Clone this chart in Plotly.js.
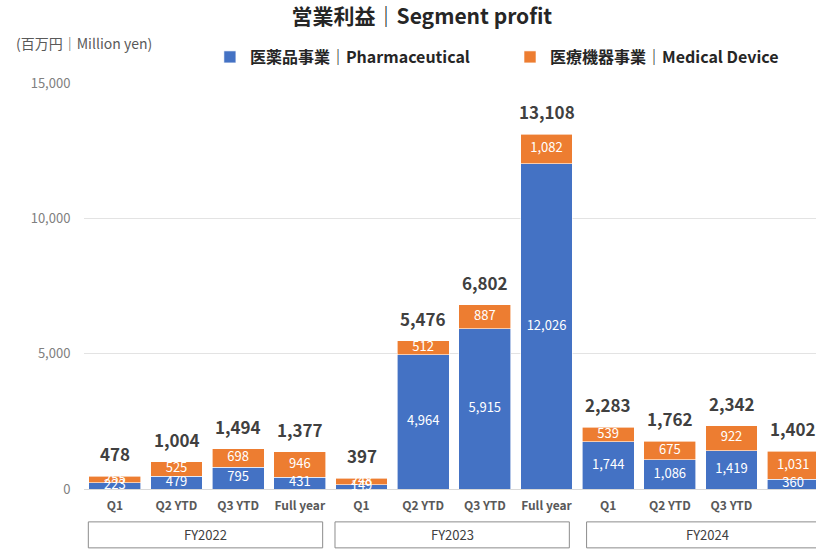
<!DOCTYPE html>
<html>
<head>
<meta charset="utf-8">
<script src="https://cdn.plot.ly/plotly-3.0.1.min.js"></script>
<style>html,body{margin:0;padding:0;background:#fff;}#chart{width:816px;height:552px;}</style>
</head>
<body>
<div id="chart"></div>
<script>
const categories = ['Q1','Q2 YTD','Q3 YTD','Full year','Q1','Q2 YTD','Q3 YTD','Full year','Q1','Q2 YTD','Q3 YTD','Full year'];
const fiscalYears = ['FY2022','FY2023','FY2024'];
const pharma = [223,479,795,431,149,4964,5915,12026,1744,1086,1419,360];
const device = [255,525,698,946,248,512,887,1082,539,675,922,1031];
const totals = [478,1004,1494,1377,397,5476,6802,13108,2283,1762,2342,1402];
const seriesNames = ['医薬品事業｜Pharmaceutical','医療機器事業｜Medical Device'];
const yTicks = [0,5000,10000,15000];

const FONT = '"Noto Sans CJK JP", "Noto Sans", sans-serif';
const BLUE = '#4472C4', ORANGE = '#ED7D31';
const xs = categories.map((_, i) => i);
const fmt = v => v.toLocaleString('en-US');

const traces = [
  {type:'bar', x: xs, y: pharma, name: seriesNames[0], legend:'legend', marker:{color:BLUE, line:{color:'#ffffff', width:0.6}}, hoverinfo:'y+name'},
  {type:'bar', x: xs, y: device, name: seriesNames[1], legend:'legend2', marker:{color:ORANGE, line:{color:'#ffffff', width:0.6}}, hoverinfo:'y+name'},
  {type:'scatter', mode:'text', x: xs, y: pharma.map(v => v/2), text: pharma.map(fmt), textposition:'middle center',
   textfont:{color:'#ffffff', size:13, family:FONT}, showlegend:false, hoverinfo:'skip', cliponaxis:false},
  {type:'scatter', mode:'text', x: xs, y: device.map((v,i) => pharma[i] + v/2), text: device.map(fmt), textposition:'middle center',
   textfont:{color:'#ffffff', size:13, family:FONT}, showlegend:false, hoverinfo:'skip', cliponaxis:false}
];

const shapes = [], annotations = [];
xs.forEach(i => {
  annotations.push({xref:'x', yref:'y', x:i, y:pharma[i] + device[i], text:fmt(totals[i]), showarrow:false,
    xanchor:'center', yanchor:'bottom', yshift:8, font:{size:17, color:'#404040', family:FONT, weight:'bold'}});
});
fiscalYears.forEach((fy, g) => {
  const x0 = g*4 - 0.43 + (g === 2 ? 0.08 : 0), x1 = g*4 + 3.37 + (g === 2 ? 0.2 : 0);
  shapes.push({type:'rect', xref:'x', yref:'paper', x0:x0, x1:x1, y0:-0.145, y1:-0.081,
    line:{color:'#8c8c8c', width:1}, fillcolor:'rgba(0,0,0,0)', layer:'above'});
  annotations.push({xref:'x', yref:'paper', x:(x0+x1)/2, y:-0.113, text:fy, showarrow:false,
    font:{size:13, color:'#404040', family:FONT}, xanchor:'center', yanchor:'middle'});
});
annotations.push({xref:'paper', yref:'paper', x:-0.096, y:1.0985, xanchor:'left', yanchor:'middle',
  text:'(百万円｜Million yen)', showarrow:false, font:{size:14, color:'#595959', family:FONT}});

const legendFont = {size:16, color:'#262626', family:FONT, weight:'bold'};
const layout = {
  width:816, height:552,
  margin:{l:84, r:0, t:83, b:63},
  paper_bgcolor:'#ffffff', plot_bgcolor:'#ffffff',
  font:{family:FONT, color:'#404040'},
  barmode:'stack', bargap:0.16,
  title:{text:'営業利益｜Segment profit', x:0.517, xref:'container', xanchor:'center', y:0.969, yref:'container', yanchor:'middle',
    font:{size:21, color:'#262626', family:FONT, weight:'bold'}},
  xaxis:{range:[-0.5, 11.37], tickvals: xs, ticktext: categories, showgrid:false, zeroline:false, showline:false,
    ticks:'outside', ticklen:6, tickcolor:'rgba(0,0,0,0)', tickfont:{size:12, color:'#595959', family:FONT, weight:'bold'}, fixedrange:true},
  yaxis:{range:[0,15000], tickvals: yTicks, tickformat:',d', showgrid:true, gridcolor:'#e3e3e3', gridwidth:1,
    zeroline:true, zerolinecolor:'#d9d9d9', showline:false, ticks:'outside', ticklen:10, tickcolor:'rgba(0,0,0,0)',
    tickfont:{size:13, color:'#808080', family:FONT}, fixedrange:true},
  legend:{orientation:'h', x:0.172, xanchor:'left', y:1.064, yanchor:'middle', font:legendFont, bgcolor:'rgba(0,0,0,0)'},
  legend2:{orientation:'h', x:0.582, xanchor:'left', y:1.064, yanchor:'middle', font:legendFont, bgcolor:'rgba(0,0,0,0)'},
  shapes: shapes,
  annotations: annotations,
  showlegend:true
};

Plotly.newPlot('chart', traces, layout, {displayModeBar:false, staticPlot:true});
</script>
</body>
</html>
